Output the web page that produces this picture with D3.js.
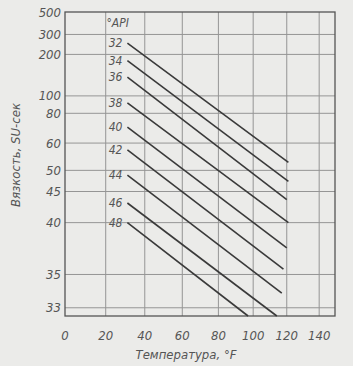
<!DOCTYPE html>
<html><head><meta charset="utf-8">
<script src="https://cdn.jsdelivr.net/npm/d3@7"></script>
<style>
html,body{margin:0;padding:0;background:#ebebe9;}
svg{display:block;}
text{font-family:"DejaVu Sans Condensed","DejaVu Sans",sans-serif;font-style:italic;fill:#555;}
</style></head>
<body><svg id="c" width="353" height="366"></svg>
<script>
// ---- data ----
const apiGrades = [32, 34, 36, 38, 40, 42, 44, 46, 48];
const startTemp = [31, 31, 31, 31, 31, 31, 31, 31, 31];          // °F
const startSU   = [250, 178, 133, 91, 69, 57, 48.7, 42.9, 40];  // SU-sec
const endTemp   = [121, 121, 120, 121, 120, 118, 117, 114, 97];  // °F
const endSU     = [52.4, 47.2, 43.5, 40, 37.2, 35.4, 33.8, 32.6, 32.6];
const xTicks = [0, 20, 40, 60, 80, 100, 120, 140];
const yTicks = [500, 300, 200, 100, 80, 60, 50, 45, 40, 35, 33];
const xMax = 150, yMin = 32.6, yMax = 500;

// SUS <-> kinematic viscosity (ASTM D2161), ASTM D341 chart transform
function susOf(nu){return 4.6324*nu + (1.0+0.03264*nu)/((3930.2+262.7*nu+23.97*nu*nu+1.646*nu*nu*nu)*1e-5);}
function nuOf(s){let lo=1.5,hi=200;for(let i=0;i<60;i++){const m=(lo+hi)/2;if(susOf(m)<s)lo=m;else hi=m;}return (lo+hi)/2;}
function astm(s){return Math.log10(Math.log10(nuOf(s)+0.7));}

const L=65,R=335,T=12,B=316;
const xs = d3.scaleLog().domain([460, xMax+460]).range([L, R]);
const x = t => xs(t+460);
const ys = d3.scaleLinear().domain([astm(yMin), astm(yMax)]).range([B, T]);
const y = s => ys(astm(s));

const svg = d3.select("#c");
const g = svg.append("g");

// grid
g.selectAll("line.vg").data(xTicks.slice(1)).enter().append("line")
  .attr("x1",d=>x(d)).attr("x2",d=>x(d)).attr("y1",T).attr("y2",B)
  .attr("stroke","#959595").attr("stroke-width",1);
g.selectAll("line.hg").data(yTicks.slice(1)).enter().append("line")
  .attr("x1",L).attr("x2",R).attr("y1",d=>y(d)).attr("y2",d=>y(d))
  .attr("stroke","#959595").attr("stroke-width",1);
g.append("rect").attr("x",L).attr("y",T).attr("width",R-L).attr("height",B-T)
  .attr("fill","none").attr("stroke","#555").attr("stroke-width",1.3);

// lines
const line = d3.line().x(d=>x(d[0])).y(d=>y(d[1]));
apiGrades.forEach((a,i)=>{
  g.append("path").attr("d",line([[startTemp[i],startSU[i]],[endTemp[i],endSU[i]]]))
    .attr("fill","none").attr("stroke","#3a3a3a").attr("stroke-width",1.6);
  g.append("text").attr("x",x(startTemp[i])-5).attr("y",y(startSU[i])).attr("dy","0.35em")
    .attr("text-anchor","end").attr("font-size",12).text(a);
});
g.append("text").attr("x",x(startTemp[0])-21).attr("y",27).attr("font-size",12).text("°API");

// y tick labels
g.selectAll("text.yt").data(yTicks).enter().append("text")
  .attr("x",61).attr("y",d=>y(d)).attr("dy","0.35em").attr("text-anchor","end")
  .attr("font-size",13).text(d=>d);
// x tick labels
g.selectAll("text.xt").data(xTicks).enter().append("text")
  .attr("x",d=>x(d)).attr("y",340).attr("text-anchor","middle")
  .attr("font-size",13).text(d=>d);

// titles
g.append("text").attr("x",186).attr("y",359).attr("text-anchor","middle")
  .attr("font-size",13).text("Температура, °F");
g.append("text").attr("transform","translate(20,155) rotate(-90)").attr("text-anchor","middle")
  .attr("font-size",13).text("Вязкость, SU-сек");
</script></body></html>
